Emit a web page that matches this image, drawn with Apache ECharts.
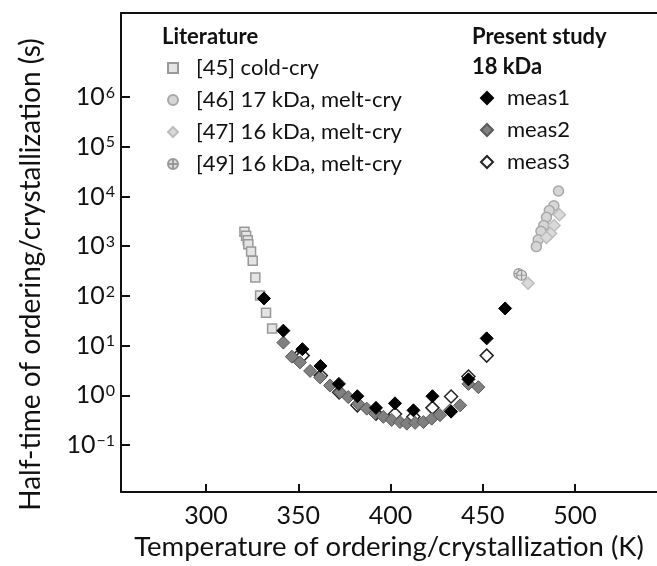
<!DOCTYPE html>
<html>
<head>
<meta charset="utf-8">
<script src="https://cdn.jsdelivr.net/npm/echarts@6/dist/echarts.min.js"></script>
<style>
  html, body { margin: 0; padding: 0; background: #fff; }
  #chart { width: 657px; height: 566px; }
</style>
</head>
<body>
<div id="chart"></div>
<script>
// [temperature (K), half-time (s)]
const cold45 = [
  [320.8, 1950], [321.7, 1620], [322.6, 1320], [322.9, 1100], [324.4, 780],
  [325.3, 510], [326.7, 235], [329.3, 102], [332.5, 46], [335.8, 22]
];
const melt46 = [
  [491, 12900], [488.5, 6500], [486, 5200], [484.5, 3800], [483, 2600],
  [481.5, 2000], [480, 1350], [479, 980]
];
const melt47 = [
  [491.5, 4300], [488.6, 2600], [486.7, 1800], [484.5, 1500], [474.5, 180]
];
const melt49 = [[469.5, 280], [471, 260]];

const meas1 = [
  [331.4, 89], [341.9, 20], [352.2, 8.5], [362, 3.9], [372, 1.7], [382, 0.96],
  [392.1, 0.56], [402.4, 0.69], [412.4, 0.5], [422.7, 0.96], [432.8, 0.47],
  [442.2, 2.1], [452.1, 14], [462.1, 56]
];
const meas2 = [
  [341.9, 11.5], [346.5, 6.0], [350.9, 4.6], [356.4, 3.1], [361.8, 2.3],
  [367.2, 1.58], [372.6, 1.16], [377.1, 0.92], [382.5, 0.68], [387.1, 0.54],
  [391.6, 0.43], [396.1, 0.37], [400.6, 0.32], [405.1, 0.29], [408.8, 0.27],
  [413.3, 0.28], [417.8, 0.29], [422.3, 0.34], [426.8, 0.4], [432.2, 0.5],
  [437.7, 0.63], [442.2, 1.7], [447.6, 1.46]
];
const meas3 = [
  [349.2, 5.8], [352.4, 6.3], [362.2, 2.5], [372.1, 1.15], [382, 0.63],
  [392.1, 0.43], [402.4, 0.42], [412.4, 0.37], [422.7, 0.56], [432.8, 0.95],
  [442.2, 2.4], [452.1, 6.3]
];

const xTicks = [300, 350, 400, 450, 500];
const yTickExps = [-1, 0, 1, 2, 3, 4, 5, 6];

const FONT = 'Lato';
const INK = '#111';
const crossCircle = 'path://M0,10A10,10,0,1,1,20,10A10,10,0,1,1,0,10ZM0,10L20,10M10,0L10,20';

// y axis is log10(half-time)
const toLog = pts => pts.map(p => [p[0], Math.log10(p[1])]);

const chart = echarts.init(document.getElementById('chart'));

const headStyle = { fontFamily: FONT, fontSize: 22, fontWeight: 'bold', color: INK };

const option = {
  animation: false,
  backgroundColor: '#fff',
  grid: { left: 121, right: 0, top: 13, bottom: 70 },
  title: [
    { text: 'Literature', left: 162, top: 26, padding: 0, textStyle: headStyle },
    { text: 'Present study', left: 472, top: 26, padding: 0, textStyle: headStyle },
    { text: '18 kDa', left: 472, top: 56, padding: 0, textStyle: headStyle }
  ],
  legend: [
    {
      data: ['[45] cold-cry', '[46] 17 kDa, melt-cry', '[47] 16 kDa, melt-cry', '[49] 16 kDa, melt-cry'],
      orient: 'vertical', left: 167, top: 57, padding: 0,
      itemWidth: 10, itemHeight: 10, itemGap: 10, selectedMode: false,
      textStyle: { fontFamily: FONT, fontSize: 22, color: INK, lineHeight: 20, padding: [0, 0, 0, 13] }
    },
    {
      data: ['meas1', 'meas2', 'meas3'],
      orient: 'vertical', left: 480, top: 87, padding: 0,
      itemWidth: 12, itemHeight: 12, itemGap: 10, selectedMode: false,
      textStyle: { fontFamily: FONT, fontSize: 22, color: INK, lineHeight: 20, padding: [0, 0, 0, 9] }
    }
  ],
  xAxis: [
    {
      type: 'value', min: 253.9, max: 544.4,
      name: 'Temperature of ordering/crystallization (K)',
      nameLocation: 'middle', nameGap: 39,
      nameTextStyle: { fontFamily: FONT, fontSize: 27.5, color: INK },
      splitLine: { show: false },
      axisLine: { onZero: false, lineStyle: { color: INK, width: 2 } },
      axisTick: { inside: true, length: 8, customValues: xTicks, lineStyle: { color: INK, width: 2 } },
      axisLabel: { customValues: xTicks, margin: 11, fontFamily: FONT, fontSize: 25, color: INK }
    },
    {
      type: 'value', position: 'top', min: 253.9, max: 544.4,
      splitLine: { show: false },
      axisLine: { onZero: false, lineStyle: { color: INK, width: 2 } },
      axisTick: { show: false }, axisLabel: { show: false }
    }
  ],
  yAxis: {
    type: 'value', min: -1.946, max: 7.69,
    name: 'Half-time of ordering/crystallization (s)',
    nameLocation: 'middle', nameGap: 76,
    nameTextStyle: { fontFamily: FONT, fontSize: 28, color: INK, padding: [0, 44, 0, 0] },
    splitLine: { show: false },
    axisLine: { onZero: false, lineStyle: { color: INK, width: 2 } },
    axisTick: { inside: true, length: 9, customValues: yTickExps, lineStyle: { color: INK, width: 2 } },
    axisLabel: {
      customValues: yTickExps, margin: 6,
      formatter: v => '{b|10}{s|' + (v < 0 ? '\u2212' + (-v) : v) + '}',
      rich: {
        b: { fontFamily: FONT, fontSize: 25, color: INK },
        s: { fontFamily: FONT, fontSize: 16, color: INK, verticalAlign: 'top', padding: [0, 0, 0, 1] }
      }
    }
  },
  series: [
    { name: '[45] cold-cry', type: 'scatter', symbol: 'rect', symbolSize: 9,
      itemStyle: { color: '#e4e4e4', borderColor: '#999', borderWidth: 1.5, opacity: 1 },
      data: toLog(cold45) },
    { name: '[46] 17 kDa, melt-cry', type: 'scatter', symbol: 'circle', symbolSize: 10,
      itemStyle: { color: '#d6d6d6', borderColor: '#a8a8a8', borderWidth: 1.5, opacity: 1 },
      data: toLog(melt46) },
    { name: '[47] 16 kDa, melt-cry', type: 'scatter', symbol: 'diamond', symbolSize: 12,
      itemStyle: { color: '#dadada', borderColor: '#bdbdbd', borderWidth: 1.5, opacity: 1 },
      data: toLog(melt47) },
    { name: '[49] 16 kDa, melt-cry', type: 'scatter', symbol: crossCircle, symbolSize: 10,
      itemStyle: { color: '#e0e0e0', borderColor: '#999', borderWidth: 1.2, opacity: 1 },
      data: toLog(melt49) },
    { name: 'meas3', type: 'scatter', symbol: 'diamond', symbolSize: 13,
      itemStyle: { color: '#fff', borderColor: '#222', borderWidth: 1.5, opacity: 1 },
      data: toLog(meas3) },
    { name: 'meas2', type: 'scatter', symbol: 'diamond', symbolSize: 13,
      itemStyle: { color: '#808080', borderColor: '#5a5a5a', borderWidth: 1, opacity: 1 },
      data: toLog(meas2) },
    { name: 'meas1', type: 'scatter', symbol: 'diamond', symbolSize: 13,
      itemStyle: { color: '#000', borderColor: '#000', borderWidth: 1, opacity: 1 },
      data: toLog(meas1) }
  ]
};

chart.setOption(option);
</script>
</body>
</html>
